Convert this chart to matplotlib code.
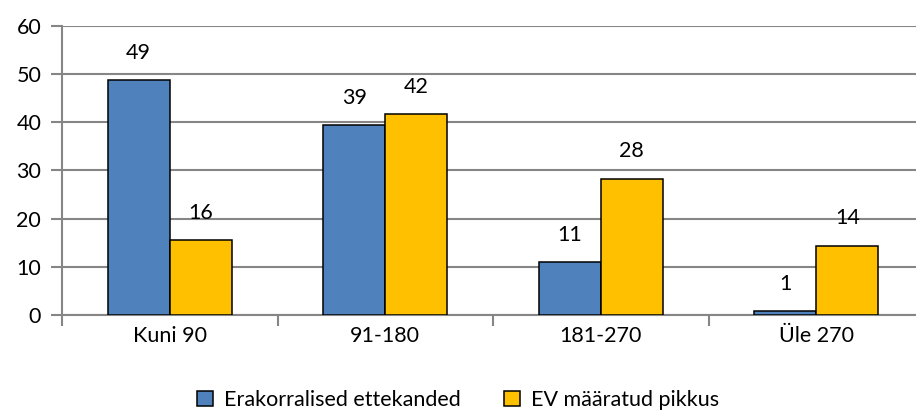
import matplotlib
matplotlib.use("Agg")
import matplotlib.pyplot as plt
import numpy as np
from matplotlib.patches import Patch

categories = ["Kuni 90", "91-180", "181-270", "Üle 270"]
series_names = ["Erakorralised ettekanded", "EV määratud pikkus"]
erakorralised = [48.7, 39.4, 10.9, 0.9]
ev_maaratud = [15.6, 41.6, 28.3, 14.4]
yticks = [0, 10, 20, 30, 40, 50, 60]

colors = ["#4F81BD", "#FFC000"]
plt.rcParams['font.family'] = ['Lato', 'DejaVu Sans']
FS = 15.5

W, H = 916, 416
fig = plt.figure(figsize=(W / 100, H / 100), dpi=100)
ax = fig.add_axes([62 / W, (H - 315) / H, (924 - 62) / W, (315 - 25.7) / H])

x = np.arange(len(categories))
bw = 0.288
grid_c = "#868686"
for i, (vals, c) in enumerate(zip([erakorralised, ev_maaratud], colors)):
    xs = x + (i - 0.5) * bw
    ax.bar(xs, vals, width=bw, color=c, edgecolor="black", linewidth=1.1, zorder=3)
    for xx, v in zip(xs, vals):
        ax.annotate(f"{round(v):d}", (xx, v), xytext=(0, 19.5), textcoords="offset points",
                    ha="center", va="center", fontsize=FS, color="black")

ax.set_xlim(-0.5, 3.5)
ax.set_ylim(0, 60)
ax.set_yticks(yticks)
ax.set_yticklabels([str(t) for t in yticks], fontsize=FS)
ax.yaxis.grid(True, color=grid_c, linewidth=1.5, zorder=0)
ax.set_xticks(x)
ax.set_xticklabels(categories, fontsize=FS)
ax.set_xticks(np.arange(-0.5, 4.0, 1.0), minor=True)
ax.tick_params(axis="x", which="major", length=0, pad=8)
ax.tick_params(axis="x", which="minor", length=8, width=1.5, color=grid_c, direction="out")
ax.tick_params(axis="y", length=8, width=1.5, color=grid_c, direction="out", pad=7)
for s in ["top", "right"]:
    ax.spines[s].set_visible(False)
for s in ["left", "bottom"]:
    ax.spines[s].set_color(grid_c)
    ax.spines[s].set_linewidth(1.5)

handles = [Patch(facecolor=c, edgecolor="black", linewidth=1.1, label=n) for c, n in zip(colors, series_names)]
fig.legend(handles=handles, loc="center", bbox_to_anchor=(0.5, (H - 400) / H), ncol=2,
           frameon=False, fontsize=FS, handlelength=0.75, handleheight=0.75,
           handletextpad=0.5, columnspacing=2.0)

fig.savefig("out.png", dpi=100)
